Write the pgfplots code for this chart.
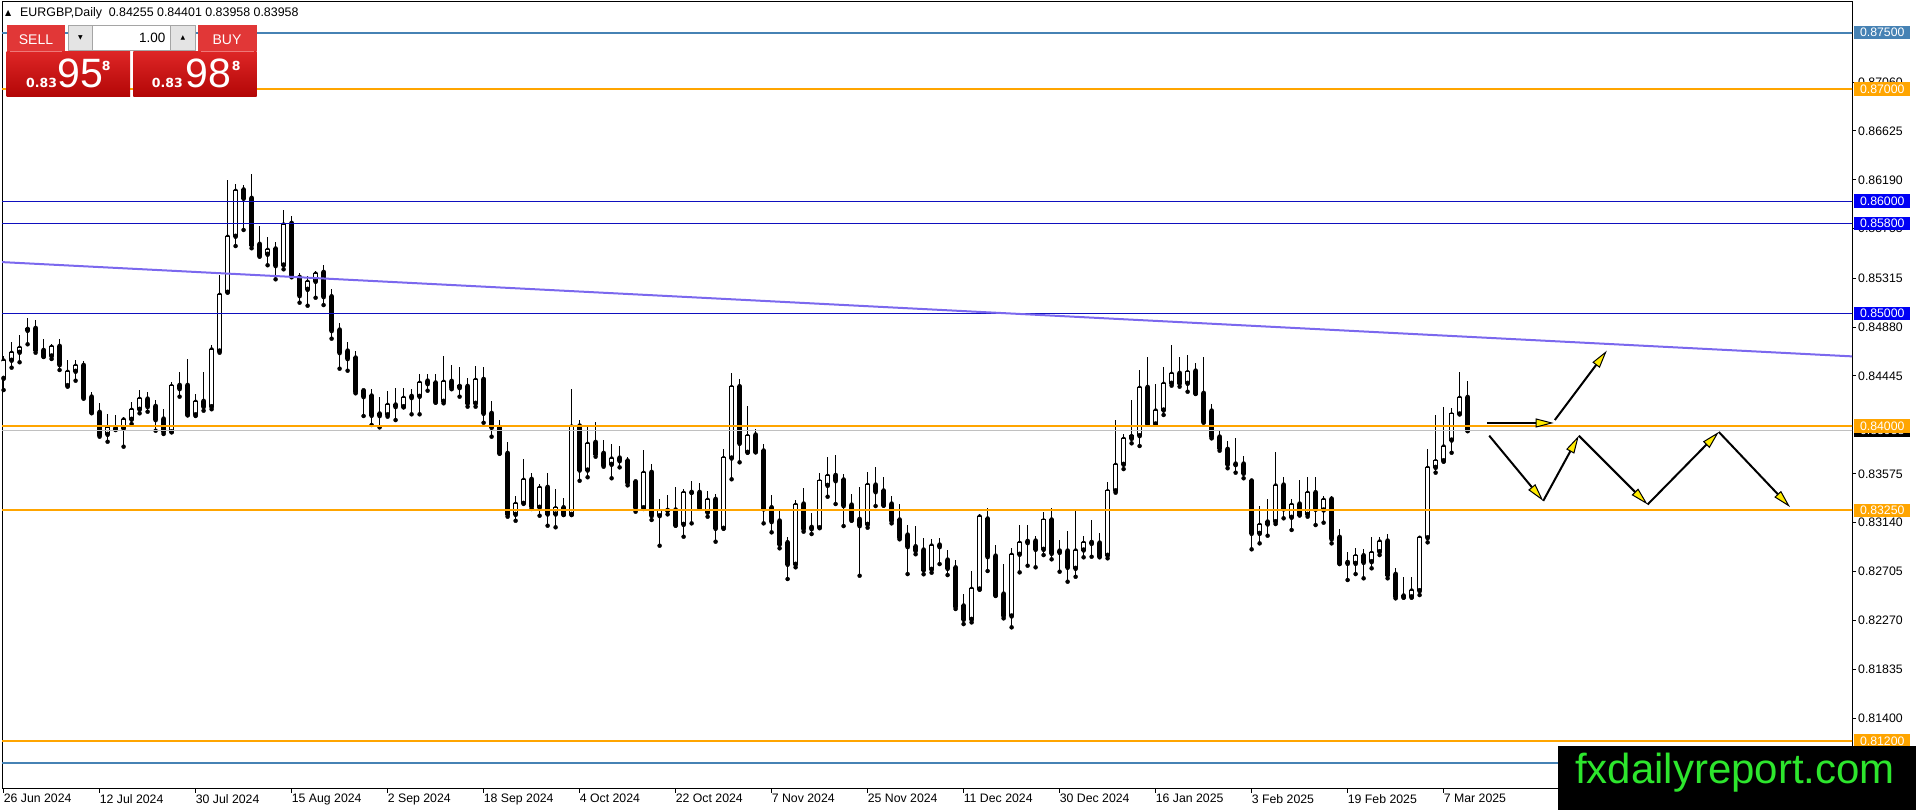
\documentclass[border=0pt]{standalone}
\usepackage{pgfplots}
\pgfplotsset{compat=1.18}
\usepackage{pgfplotstable}
\usepackage{fontspec}
\setmainfont{Liberation Sans}
\newfontfamily\dejavu{DejaVu Sans}
\usetikzlibrary{arrows.meta}

\definecolor{steelb}{RGB}{70,130,180}
\definecolor{orangeL}{RGB}{255,165,0}
\definecolor{blueL}{RGB}{15,15,190}
\definecolor{blueB}{RGB}{0,0,245}
\definecolor{trendc}{RGB}{123,104,238}
\definecolor{bidg}{RGB}{192,192,192}
\definecolor{redtop}{RGB}{222,38,38}
\definecolor{redbot}{RGB}{178,6,6}
\definecolor{redsep}{RGB}{238,120,120}
\definecolor{wmgreen}{RGB}{45,230,45}
\definecolor{arrowy}{RGB}{255,235,0}
\definecolor{btngray}{RGB}{228,228,228}
\definecolor{btnedge}{RGB}{165,165,165}

\newcommand{\lvlfont}{\fontsize{12.3}{14}\selectfont}

\pgfplotstableread{
i o h l c
0 0.84424 0.84623 0.84320 0.84587
1 0.84585 0.84745 0.84519 0.84656
2 0.84656 0.84810 0.84567 0.84700
3 0.84851 0.84958 0.84727 0.84869
4 0.84869 0.84943 0.84652 0.84676
5 0.84673 0.84771 0.84614 0.84620
6 0.84623 0.84730 0.84596 0.84709
7 0.84709 0.84774 0.84498 0.84545
8 0.84359 0.84587 0.84350 0.84487
9 0.84487 0.84587 0.84403 0.84540
10 0.84540 0.84578 0.84243 0.84252
11 0.84258 0.84305 0.84116 0.84118
12 0.84122 0.84202 0.83905 0.83920
13 0.83926 0.84104 0.83860 0.83985
14 0.83982 0.84095 0.83964 0.83971
15 0.83980 0.84083 0.83816 0.84062
16 0.84060 0.84211 0.84018 0.84149
17 0.84149 0.84320 0.84113 0.84246
18 0.84240 0.84300 0.84127 0.84172
19 0.84175 0.84231 0.83958 0.84056
20 0.84062 0.84149 0.83929 0.83949
21 0.83949 0.84389 0.83944 0.84359
22 0.84362 0.84478 0.84261 0.84332
23 0.84362 0.84596 0.84095 0.84100
24 0.84100 0.84282 0.84089 0.84220
25 0.84220 0.84483 0.84136 0.84172
26 0.84172 0.84721 0.84149 0.84685
27 0.84667 0.85343 0.84652 0.85172
28 0.85190 0.86189 0.85190 0.85688
29 0.85688 0.86153 0.85601 0.86097
30 0.86100 0.86144 0.85744 0.86026
31 0.86026 0.86242 0.85581 0.85610
32 0.85617 0.85777 0.85506 0.85515
33 0.85528 0.85679 0.85430 0.85572
34 0.85575 0.85634 0.85305 0.85426
35 0.85432 0.85922 0.85394 0.85797
36 0.85803 0.85868 0.85323 0.85343
37 0.85323 0.85359 0.85097 0.85159
38 0.85216 0.85337 0.85070 0.85287
39 0.85287 0.85379 0.85141 0.85359
40 0.85367 0.85432 0.85076 0.85150
41 0.85150 0.85216 0.84777 0.84848
42 0.84854 0.84914 0.84510 0.84652
43 0.84667 0.84745 0.84492 0.84599
44 0.84605 0.84667 0.84291 0.84303
45 0.84314 0.84327 0.84089 0.84261
46 0.84267 0.84327 0.84009 0.84095
47 0.84107 0.84261 0.83988 0.84092
48 0.84100 0.84311 0.84083 0.84193
49 0.84187 0.84335 0.84053 0.84172
50 0.84172 0.84341 0.84166 0.84255
51 0.84264 0.84327 0.84104 0.84252
52 0.84264 0.84463 0.84104 0.84389
53 0.84400 0.84463 0.84314 0.84376
54 0.84383 0.84463 0.84207 0.84214
55 0.84220 0.84623 0.84202 0.84398
56 0.84398 0.84543 0.84327 0.84341
57 0.84341 0.84522 0.84261 0.84362
58 0.84353 0.84424 0.84172 0.84202
59 0.84202 0.84531 0.84172 0.84415
60 0.84415 0.84522 0.84029 0.84113
61 0.84113 0.84222 0.83905 0.83988
62 0.83988 0.84053 0.83757 0.83757
63 0.83757 0.83855 0.83193 0.83214
64 0.83214 0.83380 0.83157 0.83312
65 0.83312 0.83704 0.83312 0.83526
66 0.83526 0.83585 0.83262 0.83282
67 0.83277 0.83484 0.83202 0.83455
68 0.83455 0.83585 0.83113 0.83217
69 0.83217 0.83437 0.83099 0.83273
70 0.83273 0.83362 0.83208 0.83214
71 0.83214 0.84329 0.83208 0.84000
72 0.84000 0.84053 0.83513 0.83608
73 0.83608 0.83988 0.83544 0.83846
74 0.83855 0.84033 0.83727 0.83751
75 0.83757 0.83875 0.83638 0.83653
76 0.83659 0.83837 0.83535 0.83715
77 0.83715 0.83822 0.83632 0.83691
78 0.83689 0.83721 0.83472 0.83496
79 0.83504 0.83513 0.83238 0.83273
80 0.83273 0.83786 0.83262 0.83588
81 0.83588 0.83659 0.83164 0.83202
82 0.83202 0.83348 0.82935 0.83244
83 0.83250 0.83386 0.83214 0.83250
84 0.83253 0.83460 0.83113 0.83119
85 0.83125 0.83437 0.83015 0.83410
86 0.83410 0.83511 0.83134 0.83410
87 0.83410 0.83490 0.83268 0.83273
88 0.83232 0.83422 0.83193 0.83348
89 0.83348 0.83392 0.82971 0.83090
90 0.83090 0.83795 0.83090 0.83718
91 0.83715 0.84474 0.83526 0.84350
92 0.84350 0.84415 0.83677 0.83846
93 0.83766 0.84178 0.83766 0.83914
94 0.83920 0.83971 0.83766 0.83771
95 0.83778 0.83837 0.83134 0.83262
96 0.83273 0.83386 0.83054 0.83149
97 0.83155 0.83253 0.82912 0.82948
98 0.82962 0.83010 0.82639 0.82770
99 0.82770 0.83346 0.82743 0.83303
100 0.83306 0.83446 0.83060 0.83084
101 0.83099 0.83229 0.83039 0.83086
102 0.83095 0.83585 0.83095 0.83511
103 0.83472 0.83727 0.83371 0.83561
104 0.83561 0.83742 0.83306 0.83513
105 0.83520 0.83573 0.83110 0.83291
106 0.83297 0.83392 0.83157 0.83164
107 0.83170 0.83455 0.82668 0.83113
108 0.83125 0.83593 0.83095 0.83481
109 0.83475 0.83632 0.83288 0.83415
110 0.83422 0.83544 0.83291 0.83297
111 0.83306 0.83377 0.83134 0.83157
112 0.83164 0.83306 0.82992 0.83006
113 0.83030 0.83119 0.82683 0.82926
114 0.82926 0.83110 0.82859 0.82891
115 0.82897 0.83006 0.82681 0.82719
116 0.82725 0.82995 0.82695 0.82941
117 0.82941 0.83001 0.82772 0.82926
118 0.82808 0.82897 0.82674 0.82734
119 0.82739 0.82808 0.82372 0.82392
120 0.82399 0.82505 0.82238 0.82280
121 0.82280 0.82710 0.82253 0.82556
122 0.82550 0.83217 0.82544 0.83199
123 0.83173 0.83268 0.82710 0.82837
124 0.82843 0.82941 0.82488 0.82496
125 0.82505 0.82770 0.82289 0.82310
126 0.82310 0.82917 0.82209 0.82859
127 0.82859 0.83119 0.82698 0.82965
128 0.82974 0.83119 0.82757 0.82962
129 0.82977 0.83021 0.82743 0.82903
130 0.82903 0.83232 0.82852 0.83164
131 0.83164 0.83268 0.82814 0.82867
132 0.82888 0.82986 0.82704 0.82876
133 0.82888 0.83068 0.82615 0.82743
134 0.82734 0.83246 0.82659 0.82897
135 0.82897 0.83021 0.82832 0.82965
136 0.82965 0.83164 0.82837 0.82956
137 0.82959 0.83051 0.82832 0.82843
138 0.82850 0.83504 0.82823 0.83424
139 0.83424 0.84053 0.83407 0.83659
140 0.83659 0.83929 0.83617 0.83890
141 0.83890 0.84231 0.83846 0.83914
142 0.83914 0.84498 0.83822 0.84344
143 0.84344 0.84617 0.84018 0.84018
144 0.84018 0.84374 0.84018 0.84142
145 0.84142 0.84522 0.84098 0.84380
146 0.84380 0.84721 0.84359 0.84469
147 0.84469 0.84611 0.84350 0.84380
148 0.84380 0.84632 0.84305 0.84483
149 0.84489 0.84563 0.84285 0.84291
150 0.84291 0.84611 0.84029 0.84038
151 0.84133 0.84196 0.83890 0.83905
152 0.83902 0.83956 0.83780 0.83802
153 0.83793 0.83867 0.83624 0.83659
154 0.83662 0.83896 0.83585 0.83656
155 0.83662 0.83733 0.83535 0.83579
156 0.83511 0.83511 0.82903 0.83045
157 0.83045 0.83288 0.82956 0.83125
158 0.83128 0.83348 0.83024 0.83155
159 0.83149 0.83771 0.83128 0.83475
160 0.83475 0.83549 0.83179 0.83262
161 0.83188 0.83350 0.83075 0.83303
162 0.83306 0.83520 0.83208 0.83208
163 0.83214 0.83549 0.83193 0.83410
164 0.83407 0.83549 0.83119 0.83259
165 0.83253 0.83377 0.83140 0.83348
166 0.83350 0.83377 0.82956 0.82995
167 0.83010 0.83081 0.82772 0.82778
168 0.82787 0.82876 0.82630 0.82778
169 0.82778 0.82912 0.82683 0.82846
170 0.82846 0.82903 0.82645 0.82787
171 0.82793 0.83010 0.82734 0.82876
172 0.82882 0.83010 0.82852 0.82977
173 0.82977 0.83036 0.82645 0.82674
174 0.82681 0.82739 0.82467 0.82481
175 0.82488 0.82654 0.82472 0.82479
176 0.82481 0.82654 0.82472 0.82541
177 0.82535 0.83021 0.82496 0.83010
178 0.83006 0.83793 0.82965 0.83632
179 0.83632 0.84098 0.83585 0.83691
180 0.83691 0.84166 0.83682 0.83822
181 0.83875 0.84157 0.83762 0.84107
182 0.84107 0.84483 0.84107 0.84255
183 0.84255 0.84401 0.83958 0.83958
}\candles

\tikzset{
  lvl/.style={anchor=west, xshift=2pt, minimum width=56pt, minimum height=13.5pt,
    inner sep=0pt, text=white, font=\lvlfont},
  arr/.style={black, line width=2pt,
    -{Triangle[length=18pt,width=9pt,fill=arrowy,line width=1pt]}},
}

\begin{document}
\begin{tikzpicture}
\path[use as bounding box] (-2pt,-21pt) rectangle (1914pt,789pt);
\begin{axis}[
  at={(0pt,0pt)}, anchor=south west,
  scale only axis, width=1850pt, height=787pt,
  xmin=-0.2, xmax=231.05, ymin=0.80771, ymax=0.87772,
  clip mode=individual,
  axis line style={black, line width=1pt},
  xtick={0,12,...,180},
  xticklabels={26 Jun 2024,12 Jul 2024,30 Jul 2024,15 Aug 2024,2 Sep 2024,18 Sep 2024,4 Oct 2024,22 Oct 2024,7 Nov 2024,25 Nov 2024,11 Dec 2024,30 Dec 2024,16 Jan 2025,3 Feb 2025,19 Feb 2025,7 Mar 2025},
  ytick={0.8706,0.86625,0.8619,0.85755,0.85315,0.8488,0.84445,0.83575,0.8314,0.82705,0.8227,0.81835,0.814},
  yticklabels={0.87060,0.86625,0.86190,0.85755,0.85315,0.84880,0.84445,0.83575,0.83140,0.82705,0.82270,0.81835,0.81400},
  xtick pos=left, ytick pos=right, yticklabel pos=right,
  tick align=outside, major tick length=4pt,
  tick style={black, line width=1pt},
  xticklabel style={anchor=north west, inner sep=0pt, font=\lvlfont, yshift=-1pt},
  yticklabel style={anchor=west, inner sep=0pt, font=\lvlfont, xshift=2pt},
]
% wicks
\addplot[only marks, mark=none, forget plot,
  error bars/.cd, y dir=plus, y explicit, error mark=none,
  error bar style={draw=black, line width=1pt}]
  table[x=i, y=l, y error plus expr=\thisrow{h}-\thisrow{l}] {\candles};
% bear bodies
\addplot[only marks, mark=none, forget plot,
  error bars/.cd, y dir=plus, y explicit, error mark=none,
  error bar style={draw=black, line width=5pt}]
  table[x=i, y expr=\thisrow{c}-0.0000445,
        y error plus expr={max(\thisrow{o}-\thisrow{c},0)+0.000089}] {\candles};
% bull bodies outline
\addplot[only marks, mark=none, forget plot,
  error bars/.cd, y dir=plus, y explicit, error mark=none,
  error bar style={draw=black, line width=5pt}]
  table[x=i, y expr=\thisrow{o}-0.0000445,
        y error plus expr={max(\thisrow{c}-\thisrow{o},0)+0.000089}] {\candles};
% bull bodies fill
\addplot[only marks, mark=none, forget plot,
  error bars/.cd, y dir=plus, y explicit, error mark=none,
  error bar style={draw=white, line width=3pt}]
  table[x=i, y expr=\thisrow{o}+0.0000445,
        y error plus expr={max(\thisrow{c}-\thisrow{o}-0.000089,0)}] {\candles};

% horizontal levels
\addplot[bidg, line width=1pt] coordinates {(-1,0.83958) (232,0.83958)};
\addplot[steelb, line width=2pt] coordinates {(-1,0.875) (232,0.875)};
\addplot[orangeL, line width=2pt] coordinates {(-1,0.870) (232,0.870)};
\addplot[blueL, line width=1pt] coordinates {(-1,0.860) (232,0.860)};
\addplot[blueL, line width=1pt] coordinates {(-1,0.858) (232,0.858)};
\addplot[blueL, line width=1pt] coordinates {(-1,0.850) (232,0.850)};
\addplot[orangeL, line width=2pt] coordinates {(-1,0.840) (232,0.840)};
\addplot[orangeL, line width=2pt] coordinates {(-1,0.8325) (232,0.8325)};
\addplot[orangeL, line width=2pt] coordinates {(-1,0.812) (232,0.812)};
\addplot[steelb, line width=2pt] coordinates {(-1,0.810) (232,0.810)};
% trend line
\addplot[trendc, line width=2pt] coordinates {(-1,0.85461) (232,0.84616)};

% projection arrows
\addplot[arr] coordinates {(185.4,0.84027) (193.76,0.84027)};
\addplot[arr] coordinates {(193.9,0.84053) (200.4,0.84670)};
\addplot[arr] coordinates {(185.7,0.83914) (192.45,0.83334)};
\addplot[arr] coordinates {(192.45,0.83334) (196.9,0.83914)};
\addplot[arr] coordinates {(196.9,0.83914) (205.5,0.83302)};
\addplot[arr] coordinates {(205.5,0.83302) (214.4,0.83947)};
\addplot[arr] coordinates {(214.4,0.83947) (223.3,0.83279)};

\coordinate (b875) at (axis cs:231.05,0.875);
\coordinate (b870) at (axis cs:231.05,0.870);
\coordinate (b860) at (axis cs:231.05,0.860);
\coordinate (b858) at (axis cs:231.05,0.858);
\coordinate (b850) at (axis cs:231.05,0.850);
\coordinate (b840) at (axis cs:231.05,0.840);
\coordinate (bbid) at (axis cs:231.05,0.83958);
\coordinate (b8325) at (axis cs:231.05,0.8325);
\coordinate (b812) at (axis cs:231.05,0.812);
\end{axis}

% level labels on the price scale
\node[lvl, fill=steelb] at (b875) {0.87500};
\node[lvl, fill=orangeL] at (b870) {0.87000};
\node[lvl, fill=blueB] at (b860) {0.86000};
\node[lvl, fill=blueB] at (b858) {0.85800};
\node[lvl, fill=blueB] at (b850) {0.85000};
\node[lvl, fill=black] at (bbid) {0.83958};
\node[lvl, fill=orangeL] at (b840) {0.84000};
\node[lvl, fill=orangeL] at (b8325) {0.83250};
\node[lvl, fill=orangeL] at (b812) {0.81200};

\begin{scope}[xshift=-2pt, yshift=789pt, x=1pt, y=-1pt]
% header
\node[anchor=west, inner sep=0pt, font=\dejavu\fontsize{8}{9}\selectfont] at (5,13.3) {▲};
\node[anchor=west, inner sep=0pt, font=\fontsize{12.4}{14}\selectfont] at (20,13.3) {EURGBP,Daily\ \ 0.84255 0.84401 0.83958 0.83958};
% one click trading panel
\shade[top color=redtop, bottom color=redbot] (6.5,51.3) rectangle (130,97);
\shade[top color=redtop, bottom color=redbot] (133.3,51.3) rectangle (256.7,97);
\fill[redtop!92!white] (6.5,25.3) rectangle (65,51.3);
\fill[redtop!92!white] (197.7,25.3) rectangle (256.7,51.3);
\draw[redsep, line width=1pt] (10,51.6) -- (62,51.6);
\draw[redsep, line width=1pt] (200.5,51.6) -- (254,51.6);
\fill[btngray, draw=btnedge, line width=0.8pt] (68.3,25.3) rectangle (92.7,50.3);
\fill[white, draw=btnedge, line width=0.8pt] (92.7,25.3) rectangle (170.7,50.3);
\fill[btngray, draw=btnedge, line width=0.8pt] (170.7,25.3) rectangle (195,50.3);
\node[inner sep=0pt, text=white, font=\fontsize{14}{16}\selectfont] at (36,39.3) {SELL};
\node[inner sep=0pt, text=white, font=\fontsize{14}{16}\selectfont] at (227,39.3) {BUY};
\node[inner sep=0pt, font=\dejavu\fontsize{6}{7}\selectfont] at (80.5,38) {▼};
\node[inner sep=0pt, font=\dejavu\fontsize{6}{7}\selectfont] at (183,38) {▲};
\node[anchor=east, inner sep=0pt, font=\fontsize{13.5}{15}\selectfont] at (165.5,38.3) {1.00};
\node[anchor=base west, inner sep=0pt, text=white, font=\dejavu\bfseries\fontsize{12.5}{14}\selectfont] at (26,87.3) {0.83};
\node[anchor=base west, inner sep=0pt, text=white, font=\fontsize{41}{43}\selectfont] at (57.5,87.3) {95};
\node[anchor=base west, inner sep=0pt, text=white, font=\dejavu\bfseries\fontsize{12.5}{14}\selectfont] at (101.7,70.3) {8};
\node[anchor=base west, inner sep=0pt, text=white, font=\dejavu\bfseries\fontsize{12.5}{14}\selectfont] at (151.7,87.3) {0.83};
\node[anchor=base west, inner sep=0pt, text=white, font=\fontsize{41}{43}\selectfont] at (185.5,87.3) {98};
\node[anchor=base west, inner sep=0pt, text=white, font=\dejavu\bfseries\fontsize{12.5}{14}\selectfont] at (231.7,70.3) {8};
% watermark
\fill[black] (1558,746) rectangle (1916,810);
\node[anchor=base west, inner sep=0pt, text=wmgreen, font=\fontsize{42}{44}\selectfont] at (1575,784) {fxdailyreport.com};
\end{scope}
\end{tikzpicture}
\end{document}
